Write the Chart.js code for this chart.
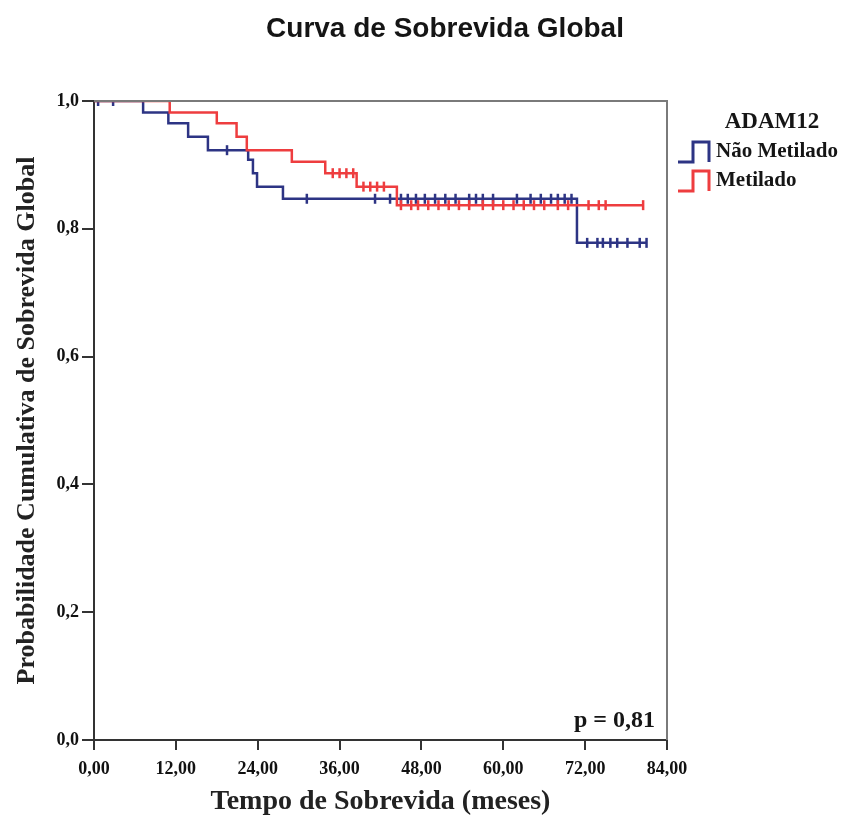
<!DOCTYPE html>
<html>
<head>
<meta charset="utf-8">
<script src="https://cdn.jsdelivr.net/npm/chart.js@4.4.0/dist/chart.umd.min.js"></script>
<style>
    html, body { margin: 0; padding: 0; background: #fff; }
</style>
</head>
<body>
<canvas id="kmChart" width="848" height="819"></canvas>
<script>
// tick values
const xTicks = [0, 12, 24, 36, 48, 60, 72, 84];
const yTicks = [0, 0.2, 0.4, 0.6, 0.8, 1.0];

// Não Metilado: event times (months) and survival after each step
const naoTimes = [0, 7.2, 10.9, 13.8, 16.7, 22.6, 23.3, 23.9, 27.7, 70.8, 81.0];
const naoSurv = [1.0, 0.982, 0.965, 0.944, 0.923, 0.908, 0.887, 0.866, 0.847, 0.778, 0.778];
const naoCensored = [0.6, 2.8, 19.5, 31.2, 41.2, 43.4, 45.0, 46.0, 47.2, 48.5, 50.0, 51.5, 53.0, 55.0, 56.0, 57.0, 58.5, 62.0, 64.0, 65.5, 67.0, 68.0, 69.0, 70.0, 72.3, 73.8, 74.6, 75.7, 76.7, 78.2, 80.0, 81.0];

// Metilado
const metTimes = [0, 11.1, 18.0, 20.9, 22.4, 29.0, 33.9, 38.5, 44.4, 80.5];
const metSurv = [1.0, 0.982, 0.965, 0.944, 0.923, 0.905, 0.887, 0.866, 0.837, 0.837];
const metCensored = [35.0, 36.0, 37.0, 38.0, 39.5, 40.5, 41.5, 42.5, 45.0, 46.5, 47.5, 49.0, 50.5, 52.0, 53.5, 55.0, 57.0, 58.5, 60.0, 61.5, 63.0, 64.5, 66.0, 68.0, 69.5, 72.5, 74.0, 75.0, 80.5];

const groupLabels = ["Não Metilado", "Metilado"];
const legendTitle = "ADAM12";
const chartTitle = "Curva de Sobrevida Global";
const pText = "p = 0,81";

const blue = "#2d3484";
const red = "#ee3d3f";
const serif = '"Liberation Serif", "Times New Roman", serif';

// survival level at time t (step function)
function survAt(times, surv, t) {
    let s = surv[0];
    for (let i = 0; i < times.length; i++) {
        if (times[i] <= t) s = surv[i];
    }
    return s;
}

function stepData(times, surv) {
    return times.map((t, i) => ({ x: t, y: surv[i] }));
}

function censorData(times, surv, cens) {
    return cens.map((t) => ({ x: t, y: survAt(times, surv, t) }));
}

function commaFmt(v, digits) {
    return Number(v).toFixed(digits).replace(".", ",");
}

// frame, title, legend and p-value
const decorPlugin = {
    id: "decor",
    afterDraw(chart) {
        const ctx = chart.ctx;
        const a = chart.chartArea;
        ctx.save();

        ctx.strokeStyle = "#7a7a7a";
        ctx.lineWidth = 2;
        ctx.beginPath();
        ctx.moveTo(a.left, a.top);
        ctx.lineTo(a.right, a.top);
        ctx.lineTo(a.right, a.bottom);
        ctx.stroke();

        ctx.fillStyle = "#151515";
        ctx.textBaseline = "middle";
        ctx.textAlign = "center";
        ctx.font = 'bold 28px "Liberation Sans", Arial, sans-serif';
        ctx.fillText(chartTitle, 445, 29);

        ctx.textAlign = "right";
        ctx.font = "bold 24px " + serif;
        ctx.fillText(pText, a.right - 12, a.bottom - 19);

        // legend
        ctx.textAlign = "center";
        ctx.font = "bold 23px " + serif;
        ctx.fillText(legendTitle, 772, 122);

        const colors = [blue, red];
        const rows = [152, 181];
        ctx.lineWidth = 3;
        rows.forEach((yc, i) => {
            ctx.strokeStyle = colors[i];
            ctx.beginPath();
            ctx.moveTo(678, yc + 10);
            ctx.lineTo(693, yc + 10);
            ctx.lineTo(693, yc - 10);
            ctx.lineTo(709, yc - 10);
            ctx.lineTo(709, yc + 10);
            ctx.stroke();
            ctx.textAlign = "left";
            ctx.font = "bold 21px " + serif;
            ctx.fillText(groupLabels[i], 716, yc);
        });

        ctx.restore();
    }
};

const ctx = document.getElementById("kmChart").getContext("2d");

new Chart(ctx, {
    type: "line",
    data: {
        datasets: [
            {
                label: groupLabels[1],
                data: stepData(metTimes, metSurv),
                stepped: true,
                borderColor: red,
                borderWidth: 2.5,
                pointRadius: 0,
                fill: false
            },
            {
                label: groupLabels[1] + " censurado",
                data: censorData(metTimes, metSurv, metCensored),
                showLine: false,
                pointStyle: "line",
                rotation: 90,
                pointRadius: 5,
                borderColor: red,
                borderWidth: 2.5
            },
            {
                label: groupLabels[0],
                data: stepData(naoTimes, naoSurv),
                stepped: true,
                borderColor: blue,
                borderWidth: 2.5,
                pointRadius: 0,
                fill: false
            },
            {
                label: groupLabels[0] + " censurado",
                data: censorData(naoTimes, naoSurv, naoCensored),
                showLine: false,
                pointStyle: "line",
                rotation: 90,
                pointRadius: 5,
                borderColor: blue,
                borderWidth: 2.5
            }
        ]
    },
    options: {
        responsive: false,
        animation: false,
        layout: { padding: { top: 101, right: 181, bottom: 0, left: 0 } },
        plugins: {
            legend: { display: false },
            tooltip: { enabled: false },
            title: { display: false }
        },
        scales: {
            x: {
                type: "linear",
                min: 0,
                max: 84,
                afterBuildTicks: (s) => { s.ticks = xTicks.map((v) => ({ value: v })); },
                afterFit: (s) => { s.height = 79; },
                ticks: {
                    color: "#111",
                    font: { family: serif, size: 18, weight: "bold" },
                    padding: 9,
                    maxRotation: 0,
                    callback: (v) => commaFmt(v, 2)
                },
                grid: { drawOnChartArea: false, drawTicks: true, tickLength: 10, color: "#333", lineWidth: 2 },
                border: { color: "#333", width: 2 },
                title: {
                    display: true,
                    text: "Tempo de Sobrevida (meses)",
                    color: "#222",
                    font: { family: serif, size: 28, weight: "bold" },
                    padding: { top: 0, bottom: 0 }
                }
            },
            y: {
                min: 0,
                max: 1,
                afterBuildTicks: (s) => { s.ticks = yTicks.map((v) => ({ value: v })); },
                afterFit: (s) => { s.width = 94; },
                ticks: {
                    color: "#111",
                    font: { family: serif, size: 18, weight: "bold" },
                    padding: 3,
                    callback: (v) => commaFmt(v, 1)
                },
                grid: { drawOnChartArea: false, drawTicks: true, tickLength: 12, color: "#333", lineWidth: 2 },
                border: { color: "#333", width: 2 },
                title: {
                    display: true,
                    text: "Probabilidade Cumulativa de Sobrevida Global",
                    color: "#222",
                    font: { family: serif, size: 26, weight: "bold" },
                    padding: { top: 12, bottom: 0 }
                }
            }
        }
    },
    plugins: [decorPlugin]
});
</script>
</body>
</html>
